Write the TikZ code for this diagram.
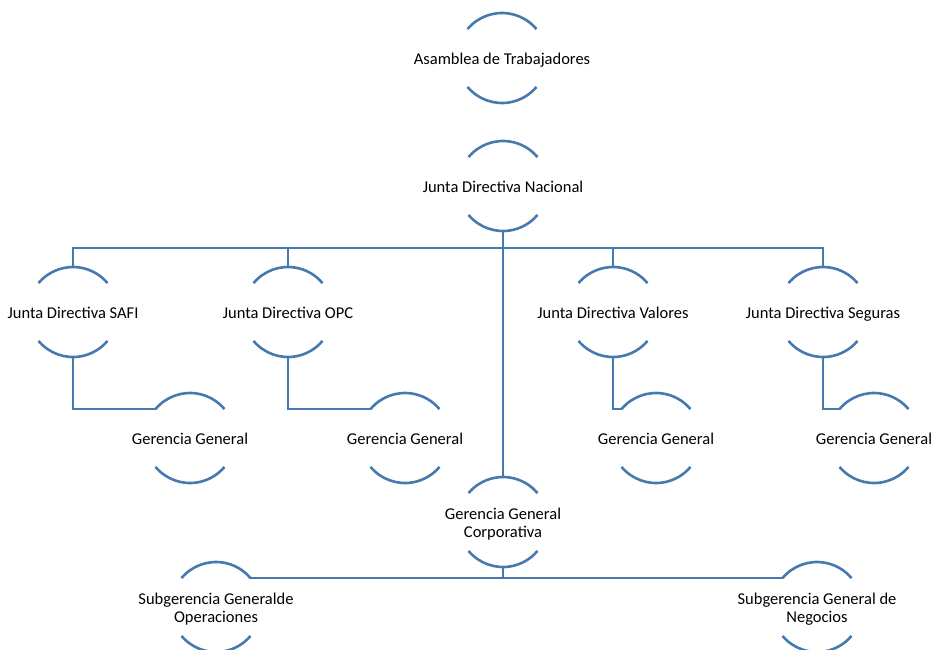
\documentclass[tikz,border=0pt]{standalone}
\usepackage{fontspec}
\setmainfont{Carlito}
\usetikzlibrary{calc}
\definecolor{orgblue}{RGB}{70,122,175}
\newcommand{\orgtext}[1]{\makebox[0pt]{\raisebox{-7pt}[0pt][0pt]{\begin{tabular}{@{}c@{}}#1\end{tabular}}}}

\begin{document}
\begin{tikzpicture}[x=1pt,y=1pt,
    orgnode/.style={circle,minimum size=90pt,inner sep=0pt,outer sep=0pt,font=\fontsize{16.5}{18}\selectfont},
    orgline/.style={draw=orgblue,line width=2.6pt}]
    \useasboundingbox (0,0) rectangle (933,-649);
    % niveles
    \node[orgnode] (asamblea) at (502,-58) {\orgtext{Asamblea de Trabajadores}};
    \node[orgnode] (nacional) at (503,-186) {\orgtext{Junta Directiva Nacional}};
    \node[orgnode] (safi) at (73,-312) {\orgtext{Junta Directiva SAFI}};
    \node[orgnode] (opc) at (288,-312) {\orgtext{Junta Directiva OPC}};
    \node[orgnode] (valores) at (613,-312) {\orgtext{Junta Directiva Valores}};
    \node[orgnode] (seguras) at (823,-312) {\orgtext{Junta Directiva Seguras}};
    \node[orgnode] (ggsafi) at (190,-438) {\orgtext{Gerencia General}};
    \node[orgnode] (ggopc) at (405,-438) {\orgtext{Gerencia General}};
    \node[orgnode] (ggvalores) at (656,-438) {\orgtext{Gerencia General}};
    \node[orgnode] (ggseguras) at (874,-438) {\orgtext{Gerencia General}};
    \node[orgnode] (corporativa) at (503,-522) {\orgtext{Gerencia General\\Corporativa}};
    \node[orgnode] (suboper) at (216,-607) {\orgtext{Subgerencia Generalde\\Operaciones}};
    \node[orgnode] (subneg) at (817,-607) {\orgtext{Subgerencia General de\\Negocios}};
    % arcos
    \foreach \n in {asamblea,nacional,safi,opc,valores,seguras,ggsafi,ggopc,ggvalores,ggseguras,corporativa,suboper,subneg}
      \draw[orgline] (\n.140) arc[start angle=140,end angle=40,radius=45pt]
                     (\n.220) arc[start angle=220,end angle=320,radius=45pt];
    % lineas
    \coordinate (bus) at ($(nacional.south)+(0,-17)$);
    \draw[orgline] (nacional.south) -- (corporativa.north);
    \draw[orgline] (safi.north) |- (bus) -| (seguras.north);
    \draw[orgline] (opc.north) |- (bus);
    \draw[orgline] (valores.north) |- (bus);
    \draw[orgline] (safi.south) |- (ggsafi.140);
    \draw[orgline] (opc.south) |- (ggopc.140);
    \draw[orgline] (valores.south) |- (ggvalores.140);
    \draw[orgline] (seguras.south) |- (ggseguras.140);
    \draw[orgline] (suboper.40) -- (subneg.140);
    \draw[orgline] (corporativa.south) -- (corporativa.south |- suboper.40);
\end{tikzpicture}
\end{document}
